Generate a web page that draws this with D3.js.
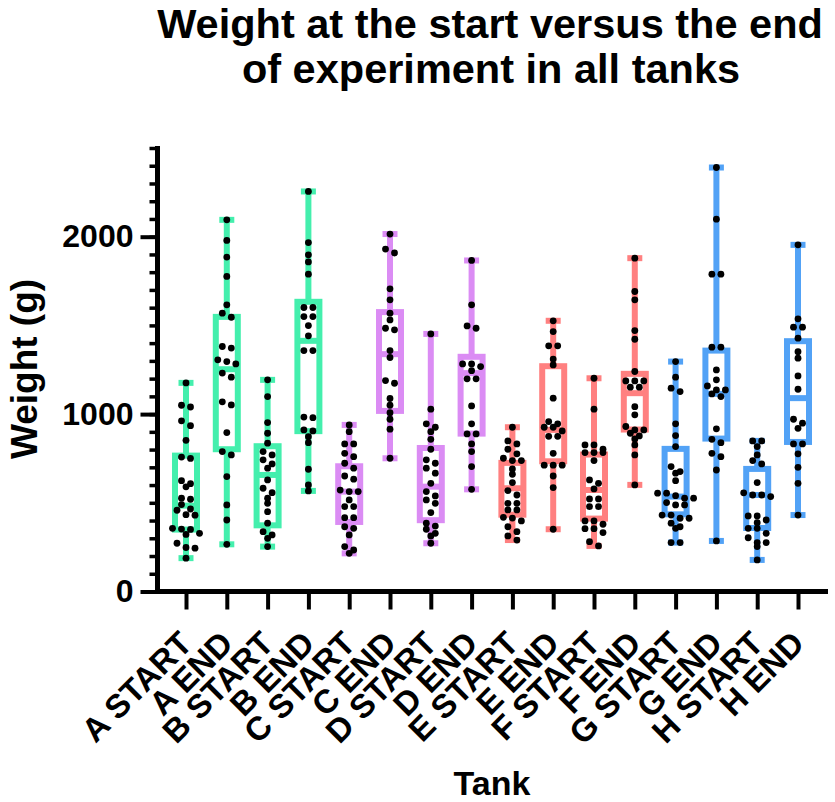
<!DOCTYPE html>
<html>
<head>
<meta charset="utf-8">
<script src="https://cdn.jsdelivr.net/npm/d3@7"></script>
<style>
  html, body { margin: 0; padding: 0; background: #fff; }
  svg text { font-family: "Liberation Sans", Arial, Helvetica, sans-serif; font-weight: bold; fill: #000; }
</style>
</head>
<body>
<svg id="chart" width="835" height="802"></svg>
<script>
// Groups along the x axis
const categories = ["A START", "A END", "B START", "B END", "C START", "C END", "D START", "D END",
                    "E START", "E END", "F START", "F END", "G START", "G END", "H START", "H END"];

// Individual fish weights (g) per group
const aStart = [1176, 1050, 1040, 962, 935, 852, 758, 750, 625, 608, 590, 526, 520, 490, 465, 458, 433, 430, 356, 352, 350, 328, 322, 272, 248, 244, 188];
const aEnd   = [2095, 1979, 1885, 1776, 1616, 1569, 1546, 1381, 1372, 1306, 1296, 1283, 1231, 1208, 1069, 1052, 896, 789, 770, 648, 488, 403, 266];
const bStart = [1193, 1099, 952, 892, 836, 789, 770, 742, 719, 695, 629, 582, 557, 526, 497, 450, 385, 337, 319, 300, 253];
const bEnd   = [2255, 1967, 1898, 1858, 1789, 1601, 1601, 1550, 1550, 1499, 1441, 1358, 1358, 980, 983, 911, 905, 873, 839, 689, 601, 567];
const cStart = [939, 901, 832, 832, 779, 760, 723, 695, 651, 633, 572, 563, 563, 516, 478, 478, 416, 416, 365, 356, 319, 253, 234, 215];
const cEnd   = [2015, 1930, 1908, 1706, 1644, 1569, 1531, 1484, 1475, 1358, 1319, 1189, 1174, 1088, 1050, 1008, 971, 915, 751];
const dStart = [1452, 1028, 945, 926, 901, 858, 802, 742, 723, 695, 667, 610, 563, 539, 516, 497, 445, 385, 369, 351, 328, 313, 272];
const dEnd   = [1866, 1616, 1497, 1484, 1283, 1283, 1268, 1245, 1199, 1199, 1046, 945, 888, 888, 832, 789, 704, 576];
const eStart = [926, 849, 832, 802, 776, 751, 738, 738, 691, 661, 614, 569, 544, 497, 497, 460, 460, 418, 414, 398, 365, 337, 313, 290];
const eEnd   = [1526, 1465, 1385, 1385, 1310, 1277, 1090, 958, 945, 926, 926, 905, 875, 875, 779, 712, 712, 712, 651, 586, 351];
const fStart = [1202, 1028, 826, 826, 802, 783, 783, 783, 738, 629, 610, 578, 522, 522, 478, 478, 398, 398, 379, 354, 354, 332, 281, 257];
const fEnd   = [1879, 1691, 1644, 1471, 1422, 1240, 1187, 1187, 1187, 1152, 1152, 1042, 996, 930, 911, 911, 892, 877, 860, 826, 770, 601];
const gStart = [1296, 1208, 1146, 1127, 945, 879, 817, 704, 676, 667, 625, 554, 554, 540, 526, 526, 501, 488, 488, 431, 431, 413, 413, 385, 365, 356, 276, 276];
const gEnd   = [2390, 2099, 1789, 1789, 1377, 1377, 1249, 1193, 1159, 1136, 1136, 1114, 1099, 917, 858, 839, 779, 760, 685, 285];
const hStart = [849, 849, 817, 770, 738, 719, 614, 556, 544, 544, 535, 426, 426, 403, 388, 356, 356, 328, 303, 276, 276, 253, 178];
const hEnd   = [1954, 1537, 1490, 1490, 1428, 1352, 1315, 1215, 1140, 971, 949, 920, 832, 832, 776, 700, 610, 431];

const weights = [aStart, aEnd, bStart, bEnd, cStart, cEnd, dStart, dEnd,
                 eStart, eEnd, fStart, fEnd, gStart, gEnd, hStart, hEnd];

// Box statistics (g): lower quartile, median, upper quartile
const q1     = [349, 802, 373, 904, 392, 1018, 402, 890, 433, 734, 411, 913, 435, 862, 358, 843];
const median = [484, 1253, 657, 1413, 563, 1338, 591, 1231, 582, 911, 572, 1118, 535, 1114, 544, 1090];
const q3     = [766, 1548, 819, 1633, 706, 1575, 809, 1323, 725, 1270, 772, 1227, 804, 1358, 691, 1411];

// One colour per pair of tanks
const tankColors = ["#44efad", "#44efad", "#44efad", "#44efad",
                    "#db8cf4", "#db8cf4", "#db8cf4", "#db8cf4",
                    "#ff8080", "#ff8080", "#ff8080", "#ff8080",
                    "#52a2f6", "#52a2f6", "#52a2f6", "#52a2f6"];

const yTicks = [0, 1000, 2000];

const svg = d3.select("#chart");

const x = d3.scalePoint().domain(categories).range([186, 798]);
const y = d3.scaleLinear().domain([0, 2500]).range([591.5, 148]);

// Title
svg.append("text").attr("x", 490).attr("y", 38).attr("text-anchor", "middle")
  .style("font-size", "41.5px").text("Weight at the start versus the end");
svg.append("text").attr("x", 491).attr("y", 83).attr("text-anchor", "middle")
  .style("font-size", "41.5px").text("of experiment in all tanks");

// Y axis: major ticks with labels, minor ticks every 100 g
const yAxisX = 157.5;
const yAxis = svg.append("g").attr("transform", `translate(${yAxisX},0)`);
yAxis.append("g")
  .call(d3.axisLeft(y).tickValues(d3.range(0, 2501, 100)).tickSize(8).tickFormat(""))
  .call(g => g.select(".domain").remove())
  .call(g => g.selectAll(".tick line").attr("stroke", "#000").attr("stroke-width", 3.5));
yAxis.append("g")
  .call(d3.axisLeft(y).tickValues(yTicks).tickSize(17).tickPadding(7).tickFormat(d3.format("d")))
  .call(g => g.select(".domain").remove())
  .call(g => g.selectAll(".tick line").attr("stroke", "#000").attr("stroke-width", 4))
  .call(g => g.selectAll(".tick text").style("font-size", "32px").attr("font-family", null));
yAxis.append("line").attr("x1", 0).attr("x2", 0).attr("y1", y(2500) - 2).attr("y2", y(0) + 2.5)
  .attr("stroke", "#000").attr("stroke-width", 5);

// X axis
const xAxis = svg.append("g").attr("transform", `translate(0,${y(0)})`);
xAxis.append("g")
  .call(d3.axisBottom(x).tickSize(18).tickFormat(""))
  .call(g => g.select(".domain").remove())
  .call(g => g.selectAll(".tick line").attr("stroke", "#000").attr("stroke-width", 4));
xAxis.append("line").attr("x1", yAxisX - 2.5).attr("x2", 828).attr("y1", 0).attr("y2", 0)
  .attr("stroke", "#000").attr("stroke-width", 5);
xAxis.selectAll("text.cat").data(categories).join("text")
  .attr("class", "cat")
  .attr("text-anchor", "end")
  .attr("transform", d => `translate(${x(d) + 8},${54}) rotate(-45)`)
  .style("font-size", "33px")
  .text(d => d);

// Axis titles
svg.append("text").attr("transform", `translate(37,369) rotate(-90)`).attr("text-anchor", "middle")
  .style("font-size", "37px").text("Weight (g)");
svg.append("text").attr("x", 492).attr("y", 795).attr("text-anchor", "middle")
  .style("font-size", "34px").text("Tank");

// Box plots
const boxHalf = 11, capHalf = 7.5;
const groups = svg.append("g").selectAll("g.grp").data(categories).join("g").attr("class", "grp");

groups.each(function (cat, i) {
  const g = d3.select(this);
  const cx = x(cat);
  const col = tankColors[i];
  const vals = weights[i];
  const [lo, hi] = d3.extent(vals);

  // whisker and caps
  g.append("line").attr("x1", cx).attr("x2", cx).attr("y1", y(lo)).attr("y2", y(hi))
    .attr("stroke", col).attr("stroke-width", 6);
  [lo, hi].forEach(v => g.append("line")
    .attr("x1", cx - capHalf).attr("x2", cx + capHalf).attr("y1", y(v)).attr("y2", y(v))
    .attr("stroke", col).attr("stroke-width", 6));

  // box
  g.append("rect").attr("x", cx - boxHalf).attr("width", boxHalf * 2)
    .attr("y", y(q3[i])).attr("height", y(q1[i]) - y(q3[i]))
    .attr("fill", "#fff").attr("stroke", col).attr("stroke-width", 6);
  g.append("line").attr("x1", cx - boxHalf).attr("x2", cx + boxHalf)
    .attr("y1", y(median[i])).attr("y2", y(median[i]))
    .attr("stroke", col).attr("stroke-width", 6);

  // scatter: points at nearly the same height are spread symmetrically
  const sorted = vals.slice().sort((a, b) => b - a);
  const rows = [];
  sorted.forEach(v => {
    const last = rows[rows.length - 1];
    if (last && Math.abs(y(last[0]) - y(v)) < 5) last.push(v);
    else rows.push([v]);
  });
  const pts = [];
  rows.forEach(r => r.forEach((v, k) => pts.push({ v, dx: (k - (r.length - 1) / 2) * 9 })));
  g.selectAll("circle").data(pts).join("circle")
    .attr("cx", d => cx + d.dx).attr("cy", d => y(d.v)).attr("r", 3.4).attr("fill", "#000");
});
</script>
</body>
</html>
